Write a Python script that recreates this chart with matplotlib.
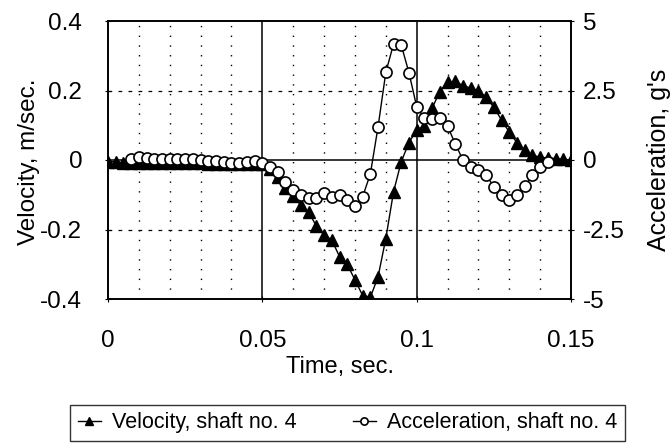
import numpy as np
import matplotlib
matplotlib.use("Agg")
from matplotlib import pyplot as plt

# tiempos de muestreo (s)
t_vel = np.linspace(0, 0.15, 61)
t_acc = np.linspace(0.0075, 0.1425, 55)

# velocidad, eje 4 (m/s)
velocidad = [-0.005, -0.005, -0.008, -0.01, -0.01, -0.01, -0.01, -0.01, -0.01, -0.01,
             -0.01, -0.01, -0.01, -0.012, -0.012, -0.012, -0.012, -0.012, -0.012, -0.012,
             -0.012, -0.025, -0.05, -0.08, -0.105, -0.13, -0.15, -0.19, -0.215, -0.23,
             -0.278, -0.30, -0.345, -0.39, -0.395, -0.336, -0.226, -0.092, -0.005, 0.05,
             0.086, 0.098, 0.149, 0.197, 0.225, 0.226, 0.214, 0.207, 0.20, 0.18,
             0.152, 0.115, 0.08, 0.05, 0.028, 0.014, 0.008, 0.006, 0.004, 0.002, 0.0]

# aceleracion, eje 4 (g)
aceleracion = [0.05, 0.1, 0.08, 0.05, 0.05, 0.05, 0.03, 0.03, 0.02, 0.0,
               -0.02, -0.05, -0.08, -0.1, -0.12, -0.08, -0.04, -0.1,
               -0.24, -0.42, -0.78, -1.08, -1.26, -1.38, -1.38, -1.2, -1.34, -1.26,
               -1.44, -1.65, -1.32, -0.5, 1.2, 3.15, 4.17, 4.14, 3.14, 1.92,
               1.5, 1.46, 1.5, 1.22, 0.58, 0.0, -0.24, -0.36, -0.54, -0.96,
               -1.26, -1.44, -1.25, -0.95, -0.55, -0.24, -0.06]

x_ticks = [0, 0.05, 0.1, 0.15]
x_labels = ["0", "0.05", "0.1", "0.15"]
v_ticks = [-0.4, -0.2, 0, 0.2, 0.4]
v_labels = ["-0.4", "-0.2", "0", "0.2", "0.4"]
a_ticks = [-5, -2.5, 0, 2.5, 5]
a_labels = ["-5", "-2.5", "0", "2.5", "5"]

plt.rcParams["font.family"] = ["Liberation Sans", "DejaVu Sans"]

fig = plt.figure(figsize=(6.7, 4.43), dpi=100)
ax = fig.add_axes([108 / 670, 1 - 299 / 443, 463 / 670, 278 / 443])

# rejilla
for xm in np.arange(0.01, 0.15, 0.01):
    if abs(xm - 0.05) < 1e-6 or abs(xm - 0.1) < 1e-6:
        ax.axvline(xm, color="k", lw=1.1, zorder=1)
    else:
        ax.axvline(xm, color="k", lw=1.0, ls=(0, (1, 6)), zorder=1)
for ym in [-0.2, 0.2]:
    ax.axhline(ym, color="k", lw=0.9, ls=(0, (3, 5)), zorder=1)
ax.axhline(0, color="k", lw=1.1, zorder=1)

l1, = ax.plot(t_vel, velocidad, color="k", lw=1.0, marker="^", markersize=8,
              markerfacecolor="k", markeredgecolor="k", zorder=3,
              label="Velocity, shaft no. 4")
ax.set_xlim(0, 0.15)
ax.set_ylim(-0.4, 0.4)
ax.set_xticks(x_ticks)
ax.set_xticklabels(x_labels)
ax.set_yticks(v_ticks)
ax.set_yticklabels(v_labels)
ax.tick_params(axis="x", direction="inout", length=5, pad=20, labelsize=17.5)
ax.tick_params(axis="y", direction="inout", length=5, pad=16, labelsize=17.5)

ax2 = ax.twinx()
l2, = ax2.plot(t_acc, aceleracion, color="k", lw=1.0, marker="o", markersize=8,
               markerfacecolor="white", markeredgecolor="k", markeredgewidth=1.2,
               zorder=3, label="Acceleration, shaft no. 4")
ax2.set_ylim(-5, 5)
ax2.set_yticks(a_ticks)
ax2.set_yticklabels(a_labels)
ax2.tick_params(axis="y", direction="inout", length=5, pad=6, labelsize=17.5)

for a in (ax, ax2):
    for s in a.spines.values():
        s.set_linewidth(1.2)
        s.set_color("k")

ax.set_xlabel("Time, sec.", fontsize=17, labelpad=3)
fig.text(29 / 670, 1 - 162 / 443, "Velocity, m/sec.", rotation=90,
         ha="center", va="center", fontsize=17.5)
fig.text(659 / 670, 1 - 160 / 443, "Acceleration, g's", rotation=90,
         ha="center", va="center", fontsize=18)

leg = fig.legend(handles=[l1, l2], loc="lower left", ncol=2,
                 bbox_to_anchor=(70 / 670, 2 / 443),
                 fontsize=15.5, frameon=True, fancybox=False, shadow=False,
                 handlelength=1.1, handletextpad=0.5, markerscale=0.65,
                 columnspacing=2.6, borderaxespad=0, borderpad=0.35)
leg.get_frame().set_edgecolor("k")
leg.get_frame().set_linewidth(1.0)

fig.savefig("out.png", dpi=100)
